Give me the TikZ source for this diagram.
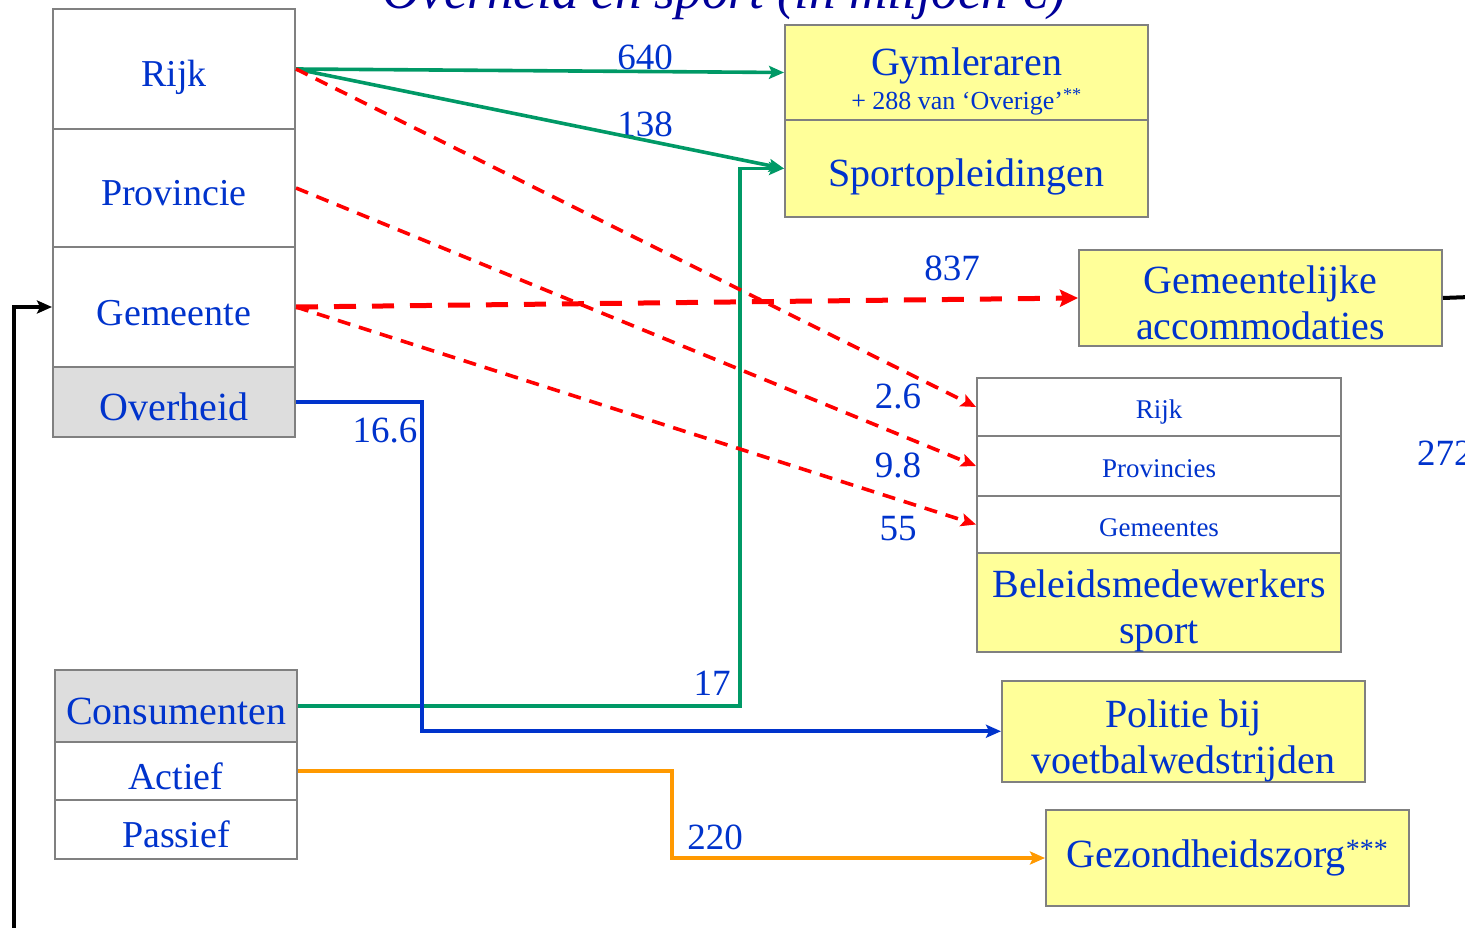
\documentclass[tikz,border=0pt]{standalone}
\usepackage{fontspec}
\setmainfont{Liberation Serif}
\usetikzlibrary{arrows.meta}
\definecolor{txtblue}{RGB}{0,51,204}
\definecolor{titleblue}{RGB}{0,0,153}
\definecolor{flowgreen}{RGB}{0,153,102}
\definecolor{floworange}{RGB}{255,153,0}
\definecolor{boxyellow}{RGB}{255,255,153}
\definecolor{boxgrey}{RGB}{221,221,221}
\definecolor{edgegrey}{RGB}{128,128,128}
\newcommand\lift[1]{\rule{0pt}{#1pt}}
\tikzset{
  cell/.style={draw=edgegrey, line width=2pt, fill=white, anchor=north west,
    inner sep=0pt, text=txtblue, align=center, font=\fontsize{38}{46}\selectfont},
  lowtext/.style={text height=44pt, text depth=8pt},
  greycell/.style={cell, fill=boxgrey, font=\fontsize{40}{46}\selectfont},
  smallcell/.style={cell, font=\fontsize{27}{30}\selectfont, text height=30pt, text depth=7pt},
  yellowcell/.style={cell, fill=boxyellow, font=\fontsize{40}{46}\selectfont},
  num/.style={text=txtblue, inner sep=0pt, font=\fontsize{37}{40}\selectfont},
  tip/.style={-{Stealth[length=15pt,width=13pt,inset=3pt]}},
  greenflow/.style={draw=flowgreen, line width=3.6pt, tip},
  redflow/.style={draw=red, line width=3.6pt, dash pattern=on 13pt off 9pt, tip},
  redbig/.style={draw=red, line width=5pt, dash pattern=on 22pt off 16pt,
    -{Stealth[length=18pt,width=17pt,inset=3pt]}},
  blueflow/.style={draw=txtblue, line width=3.6pt, tip},
  orangeflow/.style={draw=floworange, line width=3.6pt, tip},
  blackflow/.style={draw=black, line width=4pt, tip}
}
\begin{document}
\begin{tikzpicture}[x=1pt,y=-1pt]
\clip (0,0) rectangle (1465,928);
% title, cut off at the top
\node[anchor=base, text=titleblue, inner sep=0pt, font=\fontsize{53}{60}\selectfont\itshape]
  (title) at (724,9) {Overheid en sport (in miljoen €)};
% left column: sources
\node[cell, lowtext, minimum width=242, minimum height=120] (rijk) at (52,8) {Rijk};
\node[cell, lowtext, minimum width=242, minimum height=118] (provincie) at (52,128) {Provincie};
\node[cell, lowtext, minimum width=242, minimum height=120] (gemeente) at (52,246) {Gemeente};
\node[greycell, lowtext, minimum width=242, minimum height=70] (overheid) at (52,366) {Overheid};
\node[greycell, lowtext, minimum width=242, minimum height=72] (consumenten) at (54,669) {Consumenten};
\node[cell, lowtext, minimum width=242, minimum height=58] (actief) at (54,741) {Actief};
\node[cell, lowtext, minimum width=242, minimum height=59] (passief) at (54,799) {Passief};
% right side: destinations
\node[yellowcell, minimum width=363, minimum height=95] (gym) at (784,24)
  {\lift{46}Gymleraren\\[-12pt]{\fontsize{26}{28}\selectfont + 288 van ‘Overige’\textsuperscript{**}}};
\node[yellowcell, lowtext, minimum width=363, minimum height=97] (sportopl) at (784,119) {Sportopleidingen};
\node[yellowcell, minimum width=363, minimum height=96] (accom) at (1078,249)
  {\lift{38}Gemeentelijke\\accommodaties};
\node[smallcell, minimum width=364, minimum height=58] (brijk) at (976,377) {Rijk};
\node[smallcell, minimum width=364, minimum height=60] (bprov) at (976,435) {Provincies};
\node[smallcell, minimum width=364, minimum height=57] (bgem) at (976,495) {Gemeentes};
\node[yellowcell, minimum width=364, minimum height=96] (beleid) at (976,552)
  {\lift{44}Beleidsmedewerkers\\sport};
\node[yellowcell, minimum width=363, minimum height=96] (politie) at (1001,680)
  {\lift{46}Politie bij\\voetbalwedstrijden};
\node[yellowcell, minimum width=363, minimum height=96] (gezond) at (1045,809)
  {Gezondheidszorg\textsuperscript{***}};
% amounts
\node[num] (n640) at (645,57) {640};
\node[num] (n138) at (645,124) {138};
\node[num] (n837) at (952,268) {837};
\node[num] (n26) at (898,397) {2.6};
\node[num] (n98) at (898,465) {9.8};
\node[num] (n55) at (898,529) {55};
\node[num] (n166) at (385,431) {16.6};
\node[num] (n17) at (712,683) {17};
\node[num] (n220) at (715,837) {220};
\node[num, anchor=west] (n272) at (1417,453) {272};
% flows
\draw[greenflow] (rijk.east) -- (gym.west);
\draw[greenflow] (rijk.east) -- (sportopl.west);
\draw[greenflow] (consumenten.east) -- ++(442,0) |- (sportopl.west);
\draw[redflow] (rijk.east) -- (brijk.west);
\draw[redflow] (provincie.east) -- (bprov.west);
\draw[redflow] (gemeente.east) -- (bgem.west);
\draw[redbig] (gemeente.east) -- (accom.west);
\draw[blueflow] (overheid.east) -- ++(126,0) |- (politie.west);
\draw[orangeflow] (actief.east) -- ++(374,0) |- (gezond.west);
\coordinate (loopstart) at (14,935);
\coordinate (loopend) at (1470,297);
\draw[blackflow] (loopstart) |- (gemeente.west);
\draw[line width=4pt] (accom.east) -- (loopend);
\end{tikzpicture}
\end{document}
